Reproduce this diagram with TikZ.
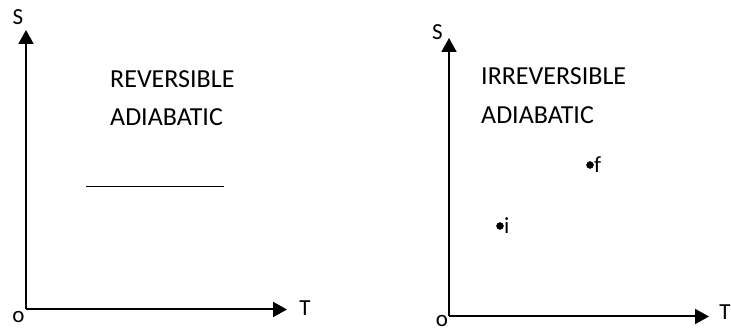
\documentclass[tikz,border=0pt]{standalone}
\usepackage{fontspec}
\setmainfont{Carlito}
\usetikzlibrary{arrows.meta}
\tikzset{
  axis/.style={line width=2pt, -{Triangle[length=14pt,width=15pt]}},
  title/.style={font=\fontsize{26}{30}\selectfont, anchor=base west, inner sep=0pt},
  lbl/.style={font=\fontsize{23}{27}\selectfont, inner sep=0pt}
}

\begin{document}
\begin{tikzpicture}[x=1pt,y=1pt]
\useasboundingbox (0,0) rectangle (731,331);
% reversible
\coordinate (O1) at (26,21.5);
\coordinate (S1) at (26,301);
\coordinate (T1) at (287,21.5);
\draw[axis] (O1) -- (S1);
\draw[axis] (O1) -- (T1);
\node[lbl] (s1) at (18,314) {S};
\node[lbl] (o1) at (18.5,14) {o};
\node[lbl] (t1) at (305,23) {T};
\node[title] (rev) at (110,243) {REVERSIBLE};
\node[title] (adia1) at (110,205) {ADIABATIC};
\coordinate (a) at (86,144.5);
\coordinate (b) at (224,144.5);
\draw[line width=1.8pt] (a) -- (b);
% irreversible
\coordinate (O2) at (449,14.5);
\coordinate (S2) at (449,293);
\coordinate (T2) at (709,14.5);
\draw[axis] (O2) -- (S2);
\draw[axis] (O2) -- (T2);
\node[lbl] (s2) at (437.5,299) {S};
\node[lbl] (o2) at (442,10) {o};
\node[lbl] (t2) at (725,19) {T};
\node[title] (irrev) at (481,246) {IRREVERSIBLE};
\node[title] (adia2) at (481,207.5) {ADIABATIC};
\filldraw [black] (590,166) circle (3.5pt) node[lbl, anchor=west, xshift=4pt] (f) {f};
\filldraw [black] (500,105) circle (3.5pt) node[lbl, anchor=west, xshift=4pt] (i) {i};
\end{tikzpicture}
\end{document}
